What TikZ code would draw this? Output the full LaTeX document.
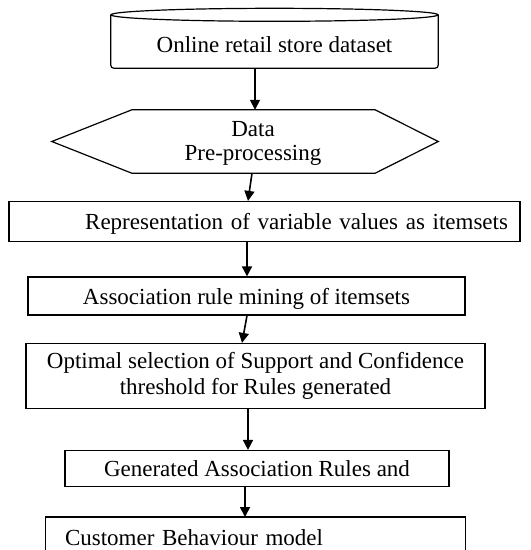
\documentclass[tikz,border=0pt]{standalone}
\usepackage{fontspec}
\setmainfont{Liberation Serif}
\usetikzlibrary{arrows.meta,calc}
\begin{document}
\begin{tikzpicture}[x=1pt,y=-1pt,
  every node/.style={font=\fontsize{23}{25}\selectfont, inner sep=0pt},
  oneline/.style={text height=16pt, text depth=0pt},
  flowbox/.style={draw, line width=1.2pt, minimum height=#1},
  flowbox/.default=40,
  arr/.style={line width=1.6pt, -{Triangle[length=10pt,width=10pt]}},
  edge/.style={line width=1.2pt}
]
\useasboundingbox (0,0) rectangle (531,550);
\clip (0,0) rectangle (531,550);

% dataset drum
\node (data) [minimum width=327, minimum height=53, text height=21pt, text depth=0pt] at (274.5,41.5) {Online retail store dataset};
\draw[edge, rounded corners=3pt] (data.north west) -- (data.south west) -- (data.south east) -- (data.north east);
\draw[edge] (data.north) ellipse [x radius=163.5, y radius=6.5];

% pre-processing hexagon
\node (prep) [minimum width=386, minimum height=63] at (245,141.5) {};
\node (preptext) [align=center, font=\fontsize{23}{24}\selectfont] at ($(prep.center)+(8,1.5)$) {Data\\Pre-processing};
\draw[edge] (prep.west) -- ($(prep.north west)+(80,0)$) -- ($(prep.north east)+(-63,0)$)
  -- (prep.east) -- ($(prep.south east)+(-63,0)$) -- ($(prep.south west)+(80,0)$) -- cycle;

% process steps
\node (rep) [flowbox=40, oneline, text width=487, inner xsep=12, align=right] at (264.5,221.5) {Representation of variable values as itemsets};
\node (mine) [flowbox=38, oneline, minimum width=437] at (246.5,296) {Association rule mining of itemsets};
\node (opt) [flowbox=65, minimum width=459, align=center, font=\fontsize{23}{26}\selectfont] at (255.5,376) {Optimal selection of Support and Confidence\\threshold for Rules generated};
\node (gen) [flowbox=36, oneline, minimum width=384] at (257,468.5) {Generated Association Rules and};

% last box runs past the lower edge: only its top and sides are drawn
\node (cust) [minimum height=33, text height=24pt, text depth=0pt, text width=381, inner xsep=19, align=left, anchor=north] at (255.5,517) {Customer Behaviour model};
\draw[edge] ([yshift=-8]cust.south west) -- (cust.north west) -- (cust.north east) -- ([yshift=-8]cust.south east);

% connectors
\draw[arr] ([xshift=-19.5]data.south) -- ([xshift=10]prep.north);
\draw[arr] ([xshift=7]prep.south) -- ([xshift=-16.5]rep.north);
\draw[arr] ([xshift=-17.5]rep.south) -- ([xshift=0.5]mine.north);
\draw[arr] ([xshift=0.5]mine.south) -- ([xshift=-13.5]opt.north);
\draw[arr] ([xshift=-7.5]opt.south) -- ([xshift=-9]gen.north);
\draw[arr] ([xshift=-12]gen.south) -- ([xshift=-10.5]cust.north);
\end{tikzpicture}
\end{document}
